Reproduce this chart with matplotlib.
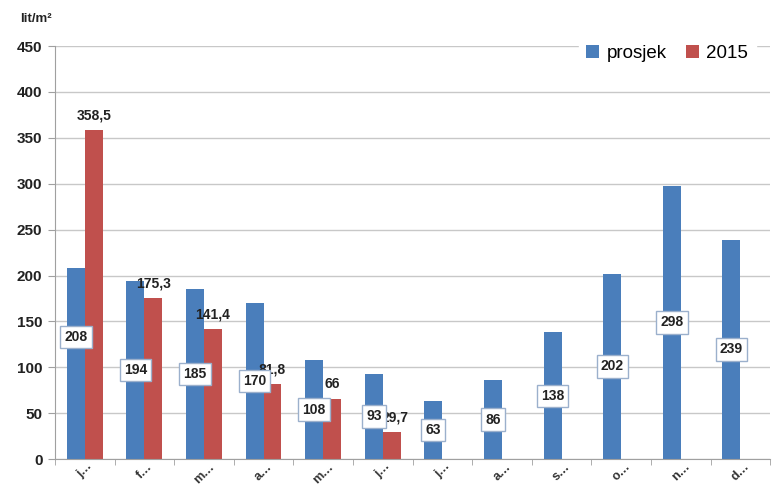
import matplotlib
matplotlib.use("Agg")
from matplotlib import pyplot as plt
import numpy as np

plt.rcParams['font.family'] = ['Liberation Sans', 'DejaVu Sans']

months = ["j…", "f…", "m…", "a…", "m…", "j…", "j…", "a…", "s…", "o…", "n…", "d…"]
prosjek = [208, 194, 185, 170, 108, 93, 63, 86, 138, 202, 298, 239]
rain2015 = [358.5, 175.3, 141.4, 81.8, 66, 29.7]
labels2015 = ["358,5", "175,3", "141,4", "81,8", "66", "29,7"]

blue = "#4a7ebb"
red = "#c0504d"

fig = plt.figure(figsize=(7.74, 4.9), dpi=100)
ax = fig.add_axes([0.071, 0.063, 0.924, 0.843])

x = np.arange(len(months))
w = 0.3
ax.bar(x - w/2, prosjek, w, color=blue, label="prosjek", zorder=2)
x2 = np.arange(len(rain2015))
ax.bar(x2 + w/2, rain2015, w, color=red, label="2015", zorder=2)

# boxed labels in the middle of the blue bars
for i, v in enumerate(prosjek):
    ypos = v / 2
    if i == 0:
        ypos = v * 0.64
    ax.text(i - w/2, ypos, str(v), ha="center", va="center", fontsize=10,
            fontweight="bold", color="#222222", zorder=4,
            bbox=dict(boxstyle="square,pad=0.3", fc="white", ec="#9bb0cc", lw=1))

for i, (v, s) in enumerate(zip(rain2015, labels2015)):
    dx = 0.06 if i == 5 else 0
    ax.text(i + w/2 + dx, v + 8, s, ha="center", va="bottom", fontsize=10,
            fontweight="bold", color="#222222", zorder=3)

ax.set_xlim(-0.5, len(months) - 0.5)
ax.set_ylim(0, 450)
ax.set_yticks(np.arange(0, 451, 50))
ax.yaxis.grid(True, color="#c8c8c8", lw=1, zorder=0)
ax.set_axisbelow(True)
ax.set_xticks(x)
ax.set_xticklabels(months, rotation=45, fontsize=9, color="#333333", fontweight="bold")
ax.set_xticks(np.arange(-0.5, len(months), 1), minor=True)
ax.tick_params(axis="x", which="major", length=0, pad=1)
ax.tick_params(axis="x", which="minor", length=4, color="#a0a0a0")
ax.tick_params(axis="y", length=5, color="#a0a0a0", labelsize=11, pad=4)
for t in ax.get_yticklabels():
    t.set_fontweight("bold")
    t.set_color("#222222")

for s in ["top", "right"]:
    ax.spines[s].set_visible(False)
ax.spines["left"].set_color("#a0a0a0")
ax.spines["bottom"].set_color("#a0a0a0")

fig.text(0.026, 0.955, "lit/m²", fontsize=9.5, fontweight="bold", color="#222222")

leg = ax.legend(loc="upper right", bbox_to_anchor=(0.985, 1.03), ncol=2, frameon=True,
                fontsize=13.5, handlelength=0.7, handleheight=0.7, columnspacing=1.0,
                handletextpad=0.4, borderaxespad=0.2)
leg.get_frame().set_edgecolor("white")
leg.get_frame().set_alpha(1)

fig.savefig("out.png", dpi=100)
